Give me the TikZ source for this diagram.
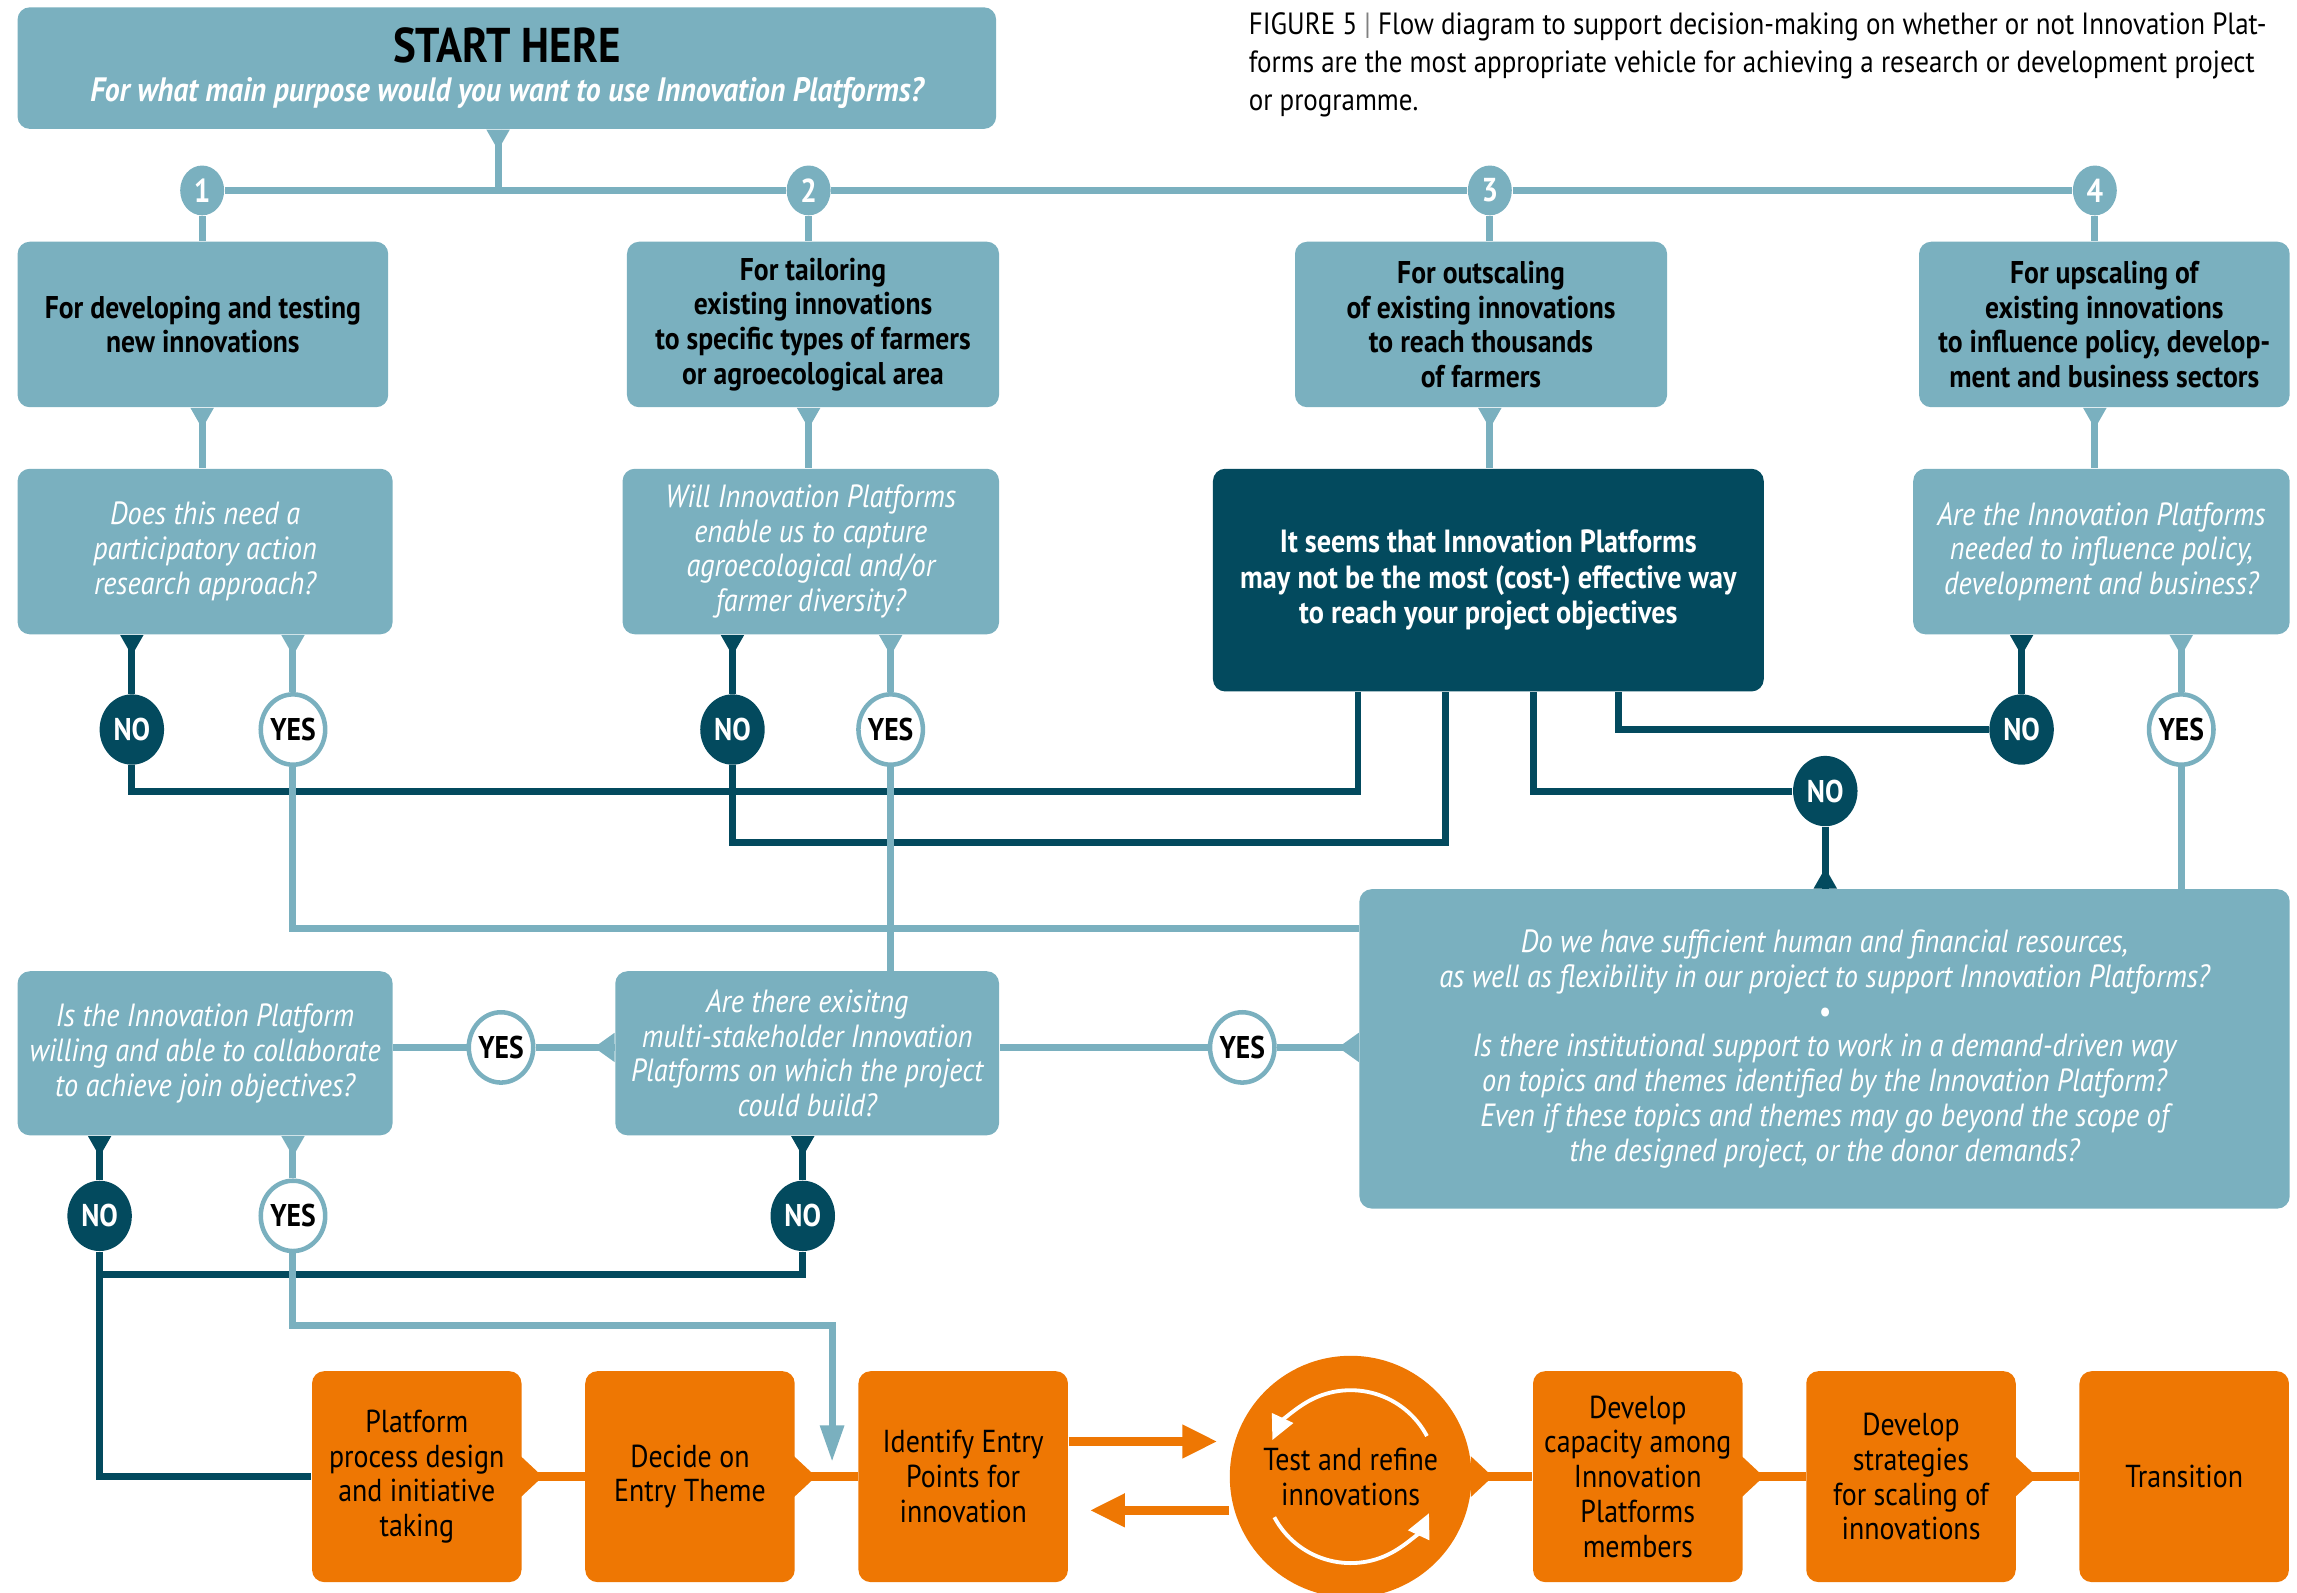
\documentclass[tikz,border=0pt]{standalone}
\usepackage{fontspec}
\setmainfont{PT Sans}[FakeStretch=0.88]
\usepackage{tikz}
\usetikzlibrary{arrows.meta,shapes.geometric}

\definecolor{lteal}{HTML}{7AB0BF}
\definecolor{dteal}{HTML}{034A5E}
\definecolor{orng}{HTML}{EE7703}

\begin{document}
\begin{tikzpicture}[x=0.42pt, y=-0.42pt,
    box/.style={rounded corners=3.5pt, align=center, inner sep=0pt},
    sbox/.style={box, fill=lteal, font=\fontsize{9.7}{11.3}\selectfont},
    pbox/.style={box, fill=lteal, font=\bfseries\fontsize{9}{9.95}\selectfont},
    qbox/.style={box, fill=lteal, text=white, font=\itshape\fontsize{9.2}{9.95}\selectfont},
    dbox/.style={box, fill=dteal, text=white, font=\bfseries\fontsize{9.2}{10.1}\selectfont},
    obox/.style={box, fill=orng, font=\fontsize{9.1}{9.95}\selectfont,
                 minimum width=143*0.42pt, minimum height=144*0.42pt},
    numbub/.style={ellipse, fill=lteal, text=white, inner sep=0pt,
                   minimum width=30*0.42pt, minimum height=34*0.42pt, font=\bfseries\fontsize{9.5}{9.5}\selectfont},
    nobub/.style={ellipse, fill=dteal, text=white, inner sep=0pt,
                  minimum width=44*0.42pt, minimum height=48*0.42pt, font=\bfseries\fontsize{9}{9}\selectfont},
    yesbub/.style={nobub, fill=white, draw=lteal, line width=1.3pt, text=black},
    lline/.style={draw=lteal, line width=2pt},
    dline/.style={draw=dteal, line width=2pt},
    oline/.style={draw=orng, line width=2.5pt}]

  \newcommand\U{0.42pt}
  \newcommand\pdn[3]{\fill[#1] (#2 |- #3.south) ++(-8,0) -- ++(16,0) -- ++(-8,14) -- cycle;}
  \newcommand\plf[3]{\fill[#1] (#3.west |- #2) ++(0,-10) -- ++(0,20) -- ++(-14,-10) -- cycle;}
  \newcommand\prt[2]{\fill[#1] (#2.east) ++(-1,-14) -- ++(0,28) -- ++(15,-14) -- cycle;}

  \useasboundingbox (0,0) rectangle (1568,1087);

  % start and purposes
  \node[sbox, minimum width=668*\U, minimum height=83*\U] (start) at (346,46.5)
    {{\bfseries\fontsize{14}{14}\selectfont START HERE}\\
     {\color{white}\bfseries\itshape For what main purpose would you want to use Innovation Platforms?}};
  \coordinate (hub) at (340,130);

  \node[numbub] (n1) at (138,130) {1};
  \node[numbub] (n2) at (552,130) {2};
  \node[numbub] (n3) at (1017,130) {3};
  \node[numbub] (n4) at (1430,130) {4};

  \node[pbox, minimum width=253*\U, minimum height=113*\U] (p1) at (138.5,221.5)
    {For developing and testing\\new innovations};
  \node[pbox, minimum width=254*\U, minimum height=113*\U] (p2) at (555,221.5)
    {For tailoring\\existing innovations\\to specific types of farmers\\or agroecological area};
  \node[pbox, minimum width=254*\U, minimum height=113*\U] (p3) at (1011,221.5)
    {For outscaling\\of existing innovations\\to reach thousands\\of farmers};
  \node[pbox, minimum width=253*\U, minimum height=113*\U] (p4) at (1436.5,221.5)
    {For upscaling of\\existing innovations\\to influence policy, develop-\\ment and business sectors};

  % questions
  \node[qbox, minimum width=256*\U, minimum height=113*\U] (q1) at (140,376.5)
    {Does this need a\\participatory action\\research approach?};
  \node[qbox, minimum width=257*\U, minimum height=113*\U] (q2) at (553.5,376.5)
    {Will Innovation Platforms\\enable us to capture\\agroecological and/or\\farmer diversity?};
  \node[dbox, minimum width=376*\U, minimum height=152*\U] (dark) at (1016,396)
    {It seems that Innovation Platforms\\may not be the most (cost-) effective way\\to reach your project objectives};
  \node[qbox, minimum width=257*\U, minimum height=113*\U] (q4) at (1434.5,376.5)
    {Are the Innovation Platforms\\needed to influence policy,\\development and business?};

  \node[nobub] (no1) at (90,498) {NO};
  \node[yesbub] (yes1) at (200,498) {YES};
  \node[nobub] (no2) at (500,498) {NO};
  \node[yesbub] (yes2) at (608,498) {YES};
  \node[nobub] (no4) at (1380,498) {NO};
  \node[yesbub] (yes4) at (1489,498) {YES};
  \node[nobub] (no5) at (1246,540) {NO};

  \node[qbox, minimum width=635*\U, minimum height=218*\U] (big) at (1245.5,716)
    {Do we have sufficient human and financial resources,\\
     as well as flexibility in our project to support Innovation Platforms?\\
     \textbullet\\
     Is there institutional support to work in a demand-driven way\\
     on topics and themes identified by the Innovation Platform?\\
     Even if these topics and themes may go beyond the scope of\\
     the designed project, or the donor demands?};
  \node[qbox, minimum width=262*\U, minimum height=112*\U] (q5) at (551,719)
    {Are there exisitng\\multi-stakeholder Innovation\\Platforms on which the project\\could build?};
  \node[qbox, minimum width=256*\U, minimum height=112*\U] (q6) at (140,719)
    {Is the Innovation Platform\\willing and able to collaborate\\to achieve join objectives?};

  \node[yesbub] (yes5) at (848,715) {YES};
  \node[yesbub] (yes6) at (342,715) {YES};
  \node[nobub] (no6) at (68,830) {NO};
  \node[yesbub] (yes7) at (200,830) {YES};
  \node[nobub] (no7) at (548,830) {NO};

  % steps
  \node[obox] (o1) at (284.5,1008) {Platform\\process design\\and initiative\\taking};
  \node[obox] (o2) at (471,1008) {Decide on\\Entry Theme};
  \node[obox] (o3) at (657.5,1008) {Identify Entry\\Points for\\innovation};
  \node[circle, fill=orng, minimum size=165*\U, inner sep=0pt, align=center,
        font=\fontsize{9.1}{9.95}\selectfont] (test) at (922,1008) {Test and refine\\innovations};
  \node[obox] (o4) at (1118,1008) {Develop\\capacity among\\Innovation\\Platforms\\members};
  \node[obox] (o5) at (1304.5,1008) {Develop\\strategies\\for scaling of\\innovations};
  \node[obox] (o6) at (1491,1008) {Transition};

  \node[anchor=north west, align=left, inner sep=0pt, font=\fontsize{8.8}{10.9}\selectfont] (cap) at (852,8)
    {FIGURE 5 {\color{gray}|} Flow diagram to support decision-making on whether or not Innovation Plat-\\
     forms are the most appropriate vehicle for achieving a research or development project\\
     or programme.};

  \coordinate (dk1) at (dark.south -| 927,0);
  \coordinate (dk2) at (dark.south -| 987,0);
  \coordinate (dk3) at (dark.south -| 1047,0);
  \coordinate (dk4) at (dark.south -| 1105,0);

  % dark connectors first, light ones cross over them
  \draw[dline] (no1 |- q1.south) -- (no1);
  \draw[dline] (no2 |- q2.south) -- (no2);
  \draw[dline] (no4 |- q4.south) -- (no4);
  \draw[dline] (no6 |- q6.south) -- (no6);
  \draw[dline] (no7 |- q5.south) -- (no7);
  \draw[dline] (no1) -- (no1 |- 0,540) -| (dk1); %% NO -> dark
  \draw[dline] (no2) -- (no2 |- 0,575) -| (dk2); %% NO -> dark
  \draw[dline] (dk3) |- (no5);
  \draw[dline] (no5) -- (no5 |- big.north);
  \draw[dline] (dk4) |- (no4);
  \draw[dline] (no7) |- (no6 |- 0,870);
  \draw[dline] (no6) |- (o1.west); %% NO -> platform design

  \pdn{dteal}{no1}{q1}
  \pdn{dteal}{no2}{q2}
  \pdn{dteal}{no4}{q4}
  \pdn{dteal}{no6}{q6}
  \pdn{dteal}{no7}{q5}
  \fill[dteal] (no5 |- big.north) ++(-8,0) -- ++(16,0) -- ++(-8,-14) -- cycle;

  % light connectors
  \draw[lline] (hub |- start.south) -- (hub);
  \draw[lline] (n1) -- (n2);
  \draw[lline] (n2) -- (n3);
  \draw[lline] (n3) -- (n4);
  \draw[lline] (n1) -- (n1 |- p1.north);
  \draw[lline] (n2) -- (n2 |- p2.north);
  \draw[lline] (n3) -- (n3 |- p3.north);
  \draw[lline] (n4) -- (n4 |- p4.north);
  \draw[lline] (n1 |- p1.south) -- (n1 |- q1.north);
  \draw[lline] (n2 |- p2.south) -- (n2 |- q2.north);
  \draw[lline] (n3 |- p3.south) -- (n3 |- dark.north);
  \draw[lline] (n4 |- p4.south) -- (n4 |- q4.north);
  \draw[lline] (yes1 |- q1.south) -- (yes1);
  \draw[lline] (yes2 |- q2.south) -- (yes2);
  \draw[lline] (yes4 |- q4.south) -- (yes4);
  \draw[lline] (yes7 |- q6.south) -- (yes7);
  \draw[lline] (yes1) |- (big.west |- 0,634); %% YES -> resources
  \draw[lline] (yes2) -- (yes2 |- q5.north);
  \draw[lline] (yes4) -- (yes4 |- big.north);
  \draw[lline] (q5.east |- yes5) -- (yes5);
  \draw[lline] (yes5) -- (big.west |- yes5);
  \draw[lline] (q6.east |- yes6) -- (yes6);
  \draw[lline] (yes6) -- (q5.west |- yes6);
  \draw[lline, -{Triangle[length=10.5pt,width=6.5pt]}] (yes7) |- (568,905) -- (568,998); %% YES -> entry points

  \pdn{lteal}{hub}{start}
  \pdn{lteal}{n1}{p1}
  \pdn{lteal}{n2}{p2}
  \pdn{lteal}{n3}{p3}
  \pdn{lteal}{n4}{p4}
  \pdn{lteal}{yes1}{q1}
  \pdn{lteal}{yes2}{q2}
  \pdn{lteal}{yes4}{q4}
  \pdn{lteal}{yes7}{q6}
  \plf{lteal}{yes5}{big}
  \plf{lteal}{yes6}{q5}

  % orange chain
  \draw[oline] (o1.east) -- (o2.west);
  \draw[oline] (o2.east) -- (o3.west);
  \draw[oline] (test.east) -- (o4.west);
  \draw[oline] (o4.east) -- (o5.west);
  \draw[oline] (o5.east) -- (o6.west);
  \prt{orng}{o1}
  \prt{orng}{o2}
  \prt{orng}{test}
  \prt{orng}{o4}
  \prt{orng}{o5}
  \draw[oline, -{Triangle[length=10pt,width=9pt]}] (o3.east |- 0,984) -- (831,984);
  \draw[oline, -{Triangle[length=10pt,width=9pt]}] (test.west |- 0,1031) -- (744,1031);

  \draw[white, line width=1.1pt, -{Triangle[length=7pt,width=6.5pt]}]
    (test.center) ++(-28:59) arc[start angle=-28, end angle=-155, radius=59];
  \draw[white, line width=1.1pt, -{Triangle[length=7pt,width=6.5pt]}]
    (test.center) ++(152:59) arc[start angle=152, end angle=25, radius=59];
\end{tikzpicture}
\end{document}
